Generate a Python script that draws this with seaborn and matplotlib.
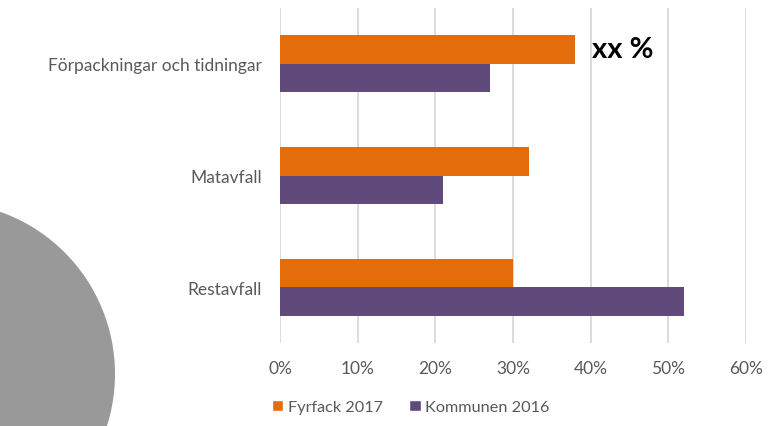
import pandas as pd
import matplotlib.pyplot as plt
import seaborn as sns
from matplotlib.patches import Patch, Circle
from matplotlib.ticker import PercentFormatter

kategorier = ['Förpackningar och tidningar', 'Matavfall', 'Restavfall']
serier = ['Fyrfack 2017', 'Kommunen 2016']
fyrfack_2017 = [38, 32, 30]
kommunen_2016 = [27, 21, 52]
farger = ['#E46C0A', '#604A7B']

df = pd.DataFrame({
    'kategori': kategorier * 2,
    'serie': [serier[0]] * 3 + [serier[1]] * 3,
    'andel': fyrfack_2017 + kommunen_2016,
})

sns.set_theme(style='white')
plt.rcParams['font.family'] = ['Lato', 'DejaVu Sans']

fig = plt.figure(figsize=(7.75, 4.27), dpi=100)
ax = fig.add_axes([0.3613, 0.194, 0.6013, 0.785])

sns.barplot(data=df, y='kategori', x='andel', hue='serie', hue_order=serier,
            palette=farger, saturation=1, width=0.51, orient='h', linewidth=0,
            legend=False, ax=ax)

ax.set_xlim(0, 60)
ax.set_xticks(range(0, 61, 10))
ax.xaxis.set_major_formatter(PercentFormatter(100, decimals=0))
ax.grid(axis='x', color='#D9D9D9', linewidth=1.3)
ax.set_axisbelow(True)
sns.despine(ax=ax, left=True, bottom=True)
ax.set_xlabel('')
ax.set_ylabel('')
ax.tick_params(axis='x', length=0, pad=12, labelsize=12.5, labelcolor='#595959')
ax.tick_params(axis='y', length=0, pad=13, labelsize=12.5, labelcolor='#595959')

ax.text(40.2, -0.13, 'xx %', ha='left', va='center', fontsize=21,
        fontweight='bold', color='black')

handles = [Patch(facecolor=c, label=s) for c, s in zip(farger, serier)]
fig.legend(handles=handles, loc='center left', bbox_to_anchor=(0.332, 0.045),
           ncol=2, frameon=False, fontsize=11.7, handlelength=0.7, handleheight=0.7,
           handletextpad=0.3, columnspacing=1.6, labelcolor='#595959')

# grå dekorcirkel nere till vänster
cirkel = Circle((-0.57, 0.52), 1.72, transform=fig.dpi_scale_trans,
                facecolor='#999999', edgecolor='none')
fig.patches.append(cirkel)

fig.savefig('out.png', dpi=100)
